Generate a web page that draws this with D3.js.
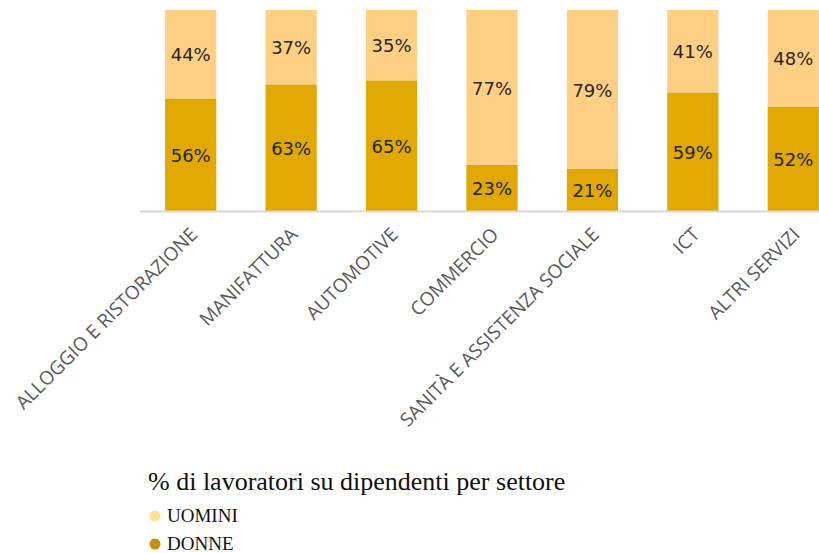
<!DOCTYPE html>
<html>
<head>
<meta charset="utf-8">
<script src="https://cdn.jsdelivr.net/npm/d3@7"></script>
<style>
  html, body { margin: 0; padding: 0; background: #fff; }
  svg { display: block; }
</style>
</head>
<body>
<svg id="chart" width="819" height="553"></svg>
<script>
// Sectors and share of employees by gender (%)
const categories = [
  "ALLOGGIO E RISTORAZIONE",
  "MANIFATTURA",
  "AUTOMOTIVE",
  "COMMERCIO",
  "SANITÀ E ASSISTENZA SOCIALE",
  "ICT",
  "ALTRI SERVIZI"
];
const donne  = [56, 63, 65, 23, 21, 59, 52];
const uomini = [44, 37, 35, 77, 79, 41, 48];

const seriesNames = ["DONNE", "UOMINI"];
const barColors = { DONNE: "#E0A800", UOMINI: "#FFD084" };
const legendColors = { UOMINI: "#FFE29A", DONNE: "#C4900C" };
const chartTitle = "% di lavoratori su dipendenti per settore";

const svg = d3.select("#chart");
const W = 819;
const plotTop = 10, plotBase = 211;

const x = d3.scaleBand()
  .domain(categories)
  .range([140, 844])
  .paddingInner(0.49)
  .paddingOuter(0.25);

const y = d3.scaleLinear().domain([0, 100]).range([plotBase, plotTop]);

const rows = categories.map((c, i) => ({ cat: c, DONNE: donne[i], UOMINI: uomini[i] }));
const stack = d3.stack().keys(seriesNames)(rows);

const g = svg.append("g");

// stacked bars
g.selectAll("g.series")
  .data(stack)
  .join("g")
  .attr("class", "series")
  .attr("fill", d => barColors[d.key])
  .selectAll("rect")
  .data(d => d)
  .join("rect")
  .attr("x", d => x(d.data.cat))
  .attr("width", x.bandwidth())
  .attr("y", d => y(d[1]))
  .attr("height", d => y(d[0]) - y(d[1]));

// value labels centred in each segment
g.selectAll("g.labels")
  .data(stack)
  .join("g")
  .attr("class", "labels")
  .selectAll("text")
  .data(d => d.map(v => ({ v, key: d.key })))
  .join("text")
  .attr("x", d => x(d.v.data.cat) + x.bandwidth() / 2)
  .attr("y", d => (y(d.v[0]) + y(d.v[1])) / 2)
  .attr("dy", "0.4em")
  .attr("text-anchor", "middle")
  .attr("font-family", "'DejaVu Sans', Verdana, sans-serif")
  .attr("font-size", 18)
  .attr("fill", "#262626")
  .text(d => d.v.data[d.key] + "%");

// baseline axis
const xAxis = d3.axisBottom(x).tickSize(0).tickPadding(0);
const axisG = svg.append("g")
  .attr("transform", `translate(0,${plotBase})`)
  .call(xAxis);
axisG.select(".domain").remove();
axisG.append("line")
  .attr("x1", 140).attr("x2", W)
  .attr("y1", 0.5).attr("y2", 0.5)
  .attr("stroke", "#D9D9D9")
  .attr("stroke-width", 2);
axisG.selectAll(".tick text")
  .attr("font-family", "'Open Sans', sans-serif")
  .attr("font-size", 19)
  .attr("fill", "#595959")
  .attr("text-anchor", "end")
  .attr("transform", "translate(3,20) rotate(-45)")
  .attr("dy", "0.35em")
  .attr("y", 0);

// title and legend
svg.append("text")
  .attr("x", 148)
  .attr("y", 490)
  .attr("font-family", "'Liberation Serif', 'Times New Roman', serif")
  .attr("font-size", 26)
  .attr("fill", "#111")
  .text(chartTitle);

const legendItems = ["UOMINI", "DONNE"];
const leg = svg.append("g");
legendItems.forEach((k, i) => {
  const cy = 516 + i * 28;
  leg.append("circle")
    .attr("cx", 155).attr("cy", cy).attr("r", 5.5)
    .attr("fill", legendColors[k]);
  leg.append("text")
    .attr("x", 167).attr("y", cy + 6)
    .attr("font-family", "'Liberation Serif', 'Times New Roman', serif")
    .attr("font-size", 19)
    .attr("fill", "#111")
    .text(k);
});
</script>
</body>
</html>
